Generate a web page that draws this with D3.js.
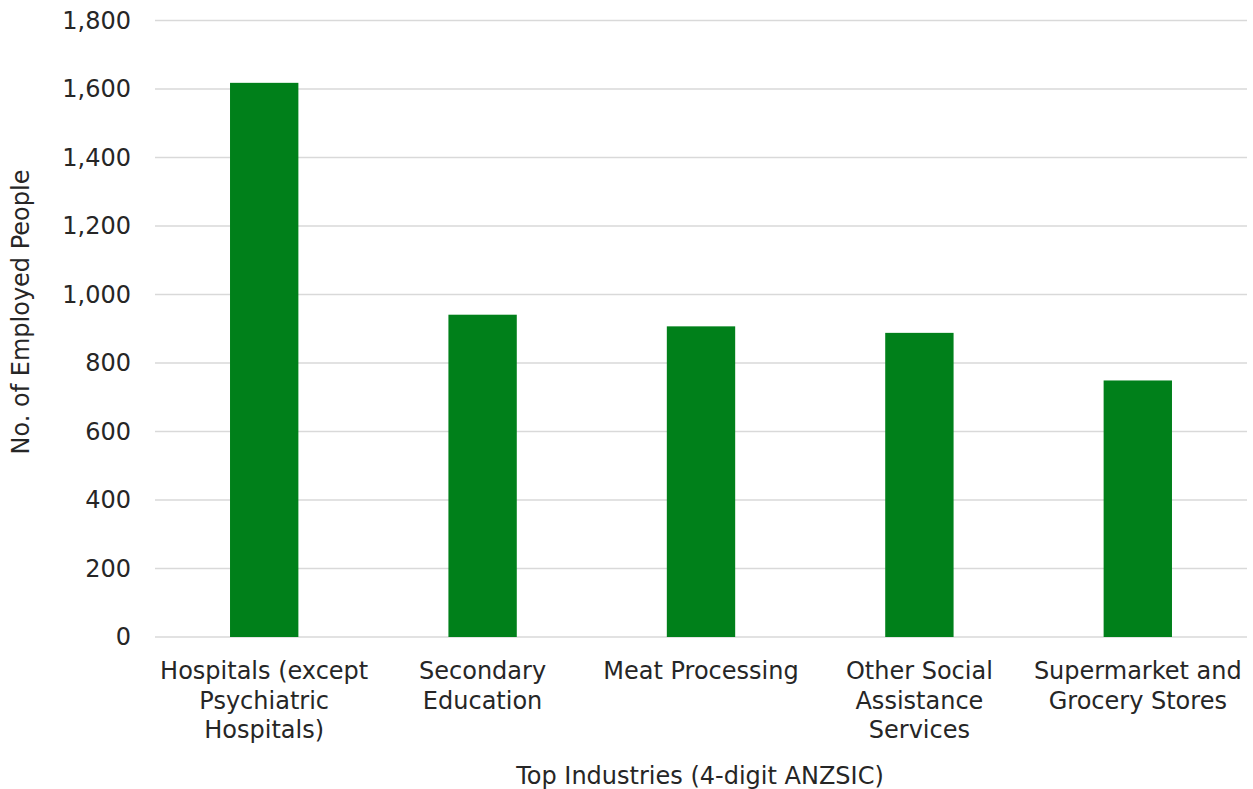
<!DOCTYPE html>
<html><head><meta charset="utf-8">
<script src="https://cdn.jsdelivr.net/npm/d3@7"></script>
<style>body{margin:0;background:#fff}svg{display:block}text{font-family:"DejaVu Sans",Verdana,sans-serif;fill:#262626}</style>
</head><body>
<script>
const categories = [
  ["Hospitals (except", "Psychiatric", "Hospitals)"],
  ["Secondary", "Education"],
  ["Meat Processing"],
  ["Other Social", "Assistance", "Services"],
  ["Supermarket and", "Grocery Stores"]
];
const values = [1618, 941, 907, 888, 749];
const yTicks = [0, 200, 400, 600, 800, 1000, 1200, 1400, 1600, 1800];
const yTitle = "No. of Employed People";
const xTitle = "Top Industries (4-digit ANZSIC)";

const W = 1253, H = 789;
const FS = 24;
const m = {left: 155, right: 6, top: 20.5, bottom: 152};
const svg = d3.select("body").append("svg").attr("width", W).attr("height", H);
const keys = categories.map((c, i) => i);
const x = d3.scaleBand().domain(keys).range([m.left, W - m.right]).paddingInner(0.687).paddingOuter(0.3435);
const y = d3.scaleLinear().domain([0, 1800]).range([H - m.bottom, m.top]);

svg.append("g").selectAll("line").data(yTicks).join("line")
  .attr("x1", m.left).attr("x2", W - m.right)
  .attr("y1", d => y(d)).attr("y2", d => y(d))
  .attr("stroke", "#d9d9d9").attr("stroke-width", 1.5);

const yAxis = svg.append("g").attr("transform", `translate(${m.left},0)`)
  .call(d3.axisLeft(y).tickValues(yTicks).tickFormat(d3.format(",")).tickSize(0).tickPadding(24));
yAxis.select(".domain").remove();
yAxis.selectAll("text").attr("font-size", FS).style("font-family", '"DejaVu Sans",Verdana,sans-serif').attr("fill", "#262626");

svg.append("g").selectAll("rect").data(values).join("rect")
  .attr("x", (d, i) => x(i)).attr("width", x.bandwidth())
  .attr("y", d => y(d)).attr("height", d => y(0) - y(d))
  .attr("fill", "#00801a");

const xl = svg.append("g");
categories.forEach((lines, i) => {
  const t = xl.append("text").attr("text-anchor", "middle").attr("font-size", FS)
    .attr("x", x(i) + x.bandwidth() / 2).attr("y", y(0) + 42);
  lines.forEach((l, j) => t.append("tspan").attr("x", x(i) + x.bandwidth() / 2).attr("dy", j ? 29.5 : 0).text(l));
});

svg.append("text").attr("text-anchor", "middle").attr("font-size", FS)
  .attr("x", 700).attr("y", 784).text(xTitle);
svg.append("text").attr("text-anchor", "middle").attr("font-size", FS)
  .attr("transform", "translate(29,312) rotate(-90)").text(yTitle);
</script>
</body></html>
